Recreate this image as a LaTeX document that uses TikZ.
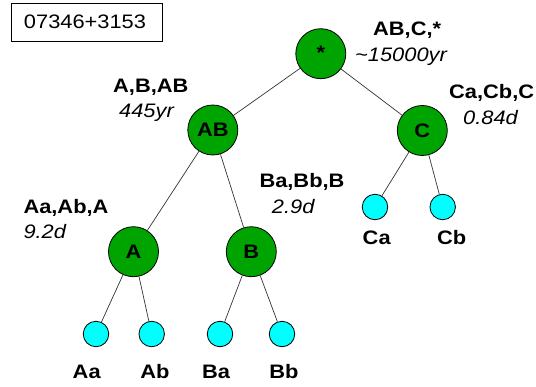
\documentclass[tikz,border=0pt]{standalone}
\usepackage{fontspec}
\setmainfont[FakeStretch=1.12]{Liberation Sans}
\definecolor{stargreen}{RGB}{0,164,0}
\definecolor{starcyan}{RGB}{0,255,255}
\tikzset{
	pair/.style={circle, draw=black, fill=stargreen, line width=0.8pt, minimum size=50pt, inner sep=0pt, font=\bfseries},
	leaf/.style={circle, draw=black, fill=starcyan, line width=0.8pt, minimum size=25.5pt, inner sep=0pt},
	leaflabel/.style={anchor=base, inner sep=0pt, font=\bfseries},
	orbit/.style={anchor=base west, inner sep=0pt, font=\bfseries},
	period/.style={anchor=base west, inner sep=0pt, font=\itshape},
	link/.style={line width=0.7pt, color=black!80}
}

\begin{document}
\begin{tikzpicture}[x=1pt, y=-1pt]
		%%%%% START %%%%%
		\fontsize{19.5}{23}\selectfont
		\useasboundingbox (0, 0) rectangle (536, 386);
		
		\draw[line width=0.8pt] (11.7, 3.3) rectangle (162, 41.7);
		\node[anchor=base, inner sep=0pt] (name) at (85, 28.3) {07346+3153};
		
		\node[pair] (root) at (320.8, 53.7) {\raisebox{2pt}{*}};
		\node[pair] (AB) at (212.8, 130) {AB};
		\node[pair] (C) at (422.3, 130.5) {C};
		\node[pair] (A) at (133.5, 251.7) {A};
		\node[pair] (B) at (251.3, 251.7) {B};
		
		\node[leaf] (Aa) at (96, 334) {};
		\node[leaf] (Ab) at (151.7, 334) {};
		\node[leaf] (Ba) at (220, 334) {};
		\node[leaf] (Bb) at (282, 334) {};
		\node[leaf] (Ca) at (375, 207) {};
		\node[leaf] (Cb) at (442.7, 207) {};
		
		\draw[link] (root) -- (AB);
		\draw[link] (root) -- (C);
		\draw[link] (AB) -- (A);
		\draw[link] (AB) -- (B);
		\draw[link] (A) -- (Aa);
		\draw[link] (A) -- (Ab);
		\draw[link] (B) -- (Ba);
		\draw[link] (B) -- (Bb);
		\draw[link] (C) -- (Ca);
		\draw[link] (C) -- (Cb);
		
		\node[leaflabel] (AaT) at (86.7, 378.3) {Aa};
		\node[leaflabel] (AbT) at (155, 378.3) {Ab};
		\node[leaflabel] (BaT) at (216, 378.3) {Ba};
		\node[leaflabel] (BbT) at (284, 378.3) {Bb};
		\node[leaflabel] (CaT) at (376.7, 244.3) {Ca};
		\node[leaflabel] (CbT) at (451.7, 244.3) {Cb};
		
		% orbit labels
		\node[orbit] (rootO) at (373, 35) {AB,C,*};
		\node[period] (rootP) at (355, 61) {\textasciitilde15000yr};
		\node[orbit] (ABO) at (113, 92) {A,B,AB};
		\node[period] (ABP) at (119, 117) {445yr};
		\node[orbit] (CO) at (449, 98.3) {Ca,Cb,C};
		\node[period] (CP) at (463, 124) {0.84d};
		\node[orbit] (AO) at (23.3, 213.3) {Aa,Ab,A};
		\node[period] (AP) at (23.3, 238.3) {9.2d};
		\node[orbit] (BO) at (259.3, 187.3) {Ba,Bb,B};
		\node[period] (BP) at (271.7, 213.3) {2.9d};
		
		%%%%% END %%%%%
	\end{tikzpicture}
\end{document}
